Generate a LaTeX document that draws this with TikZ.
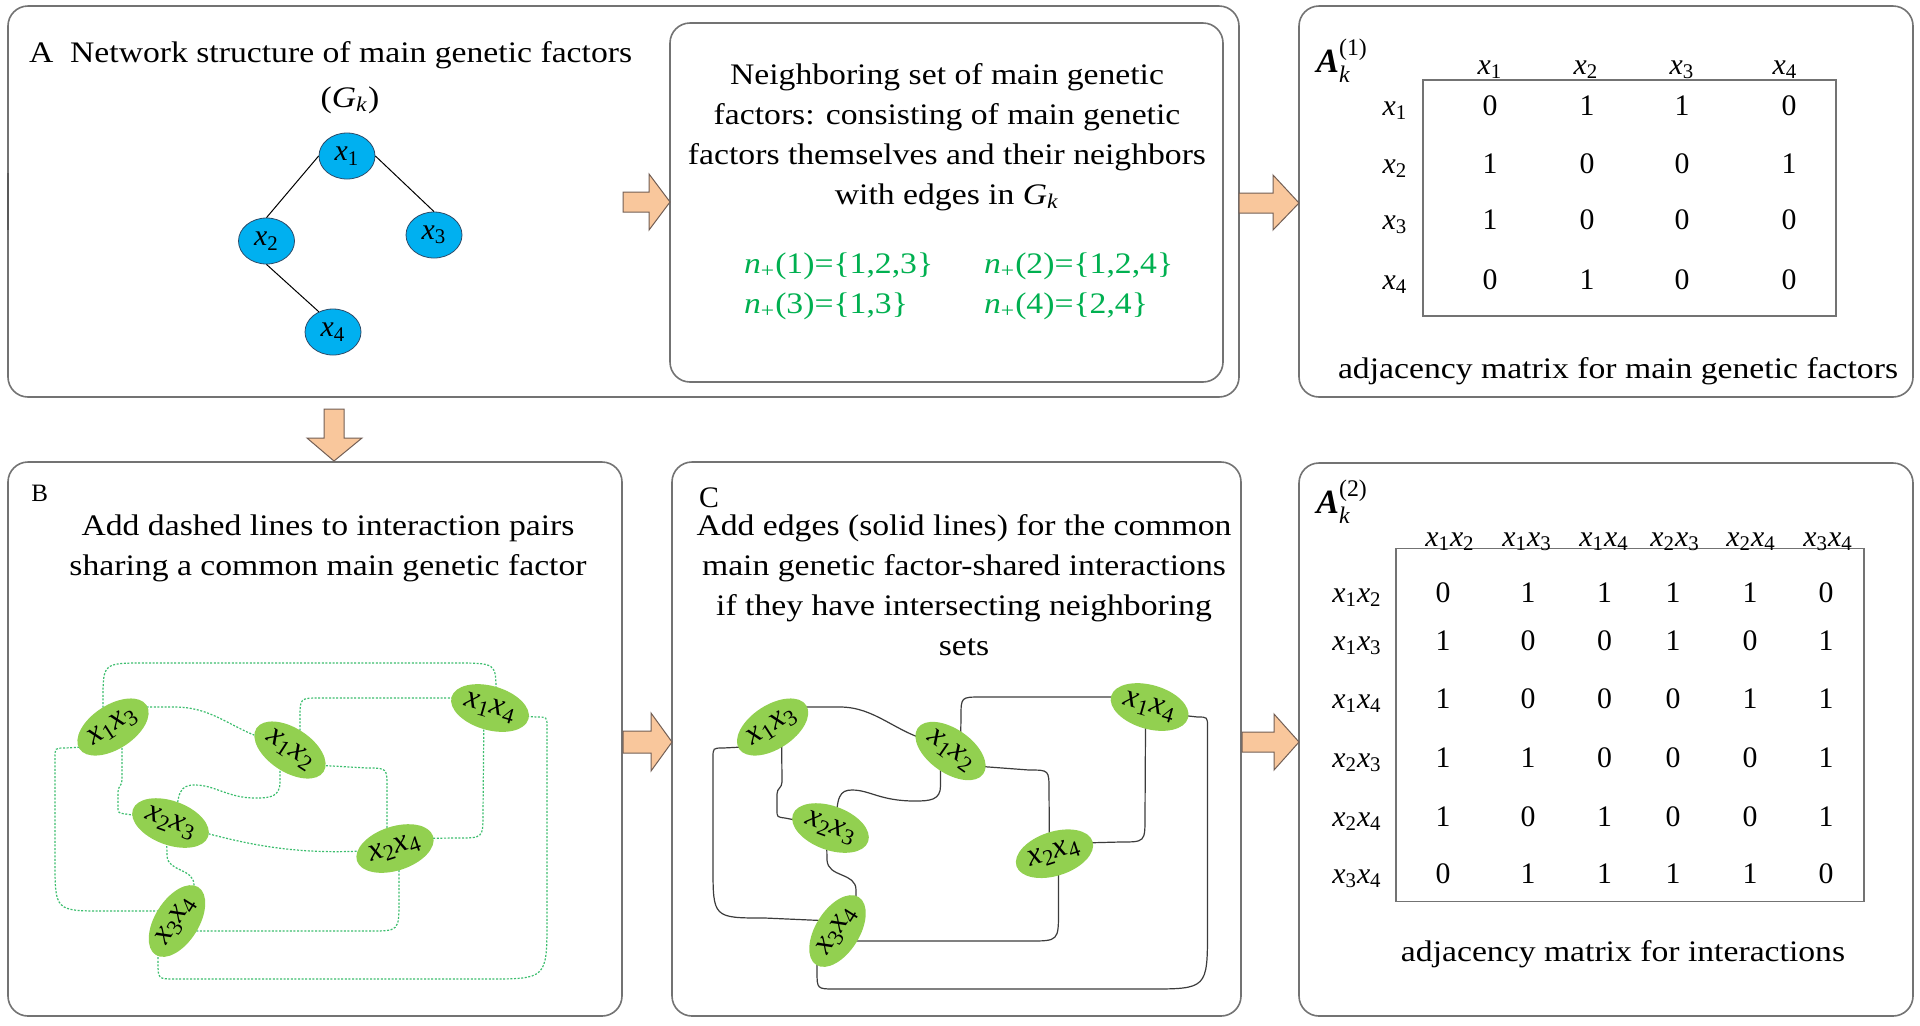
\documentclass[tikz,border=0pt]{standalone}
\usepackage{fontspec}
\setmainfont{Liberation Serif}
\usepackage{amsmath}
\usepackage{graphicx}
\usetikzlibrary{calc,backgrounds,shapes.geometric}
\definecolor{boxgray}{RGB}{115,115,115}
\definecolor{peach}{RGB}{249,199,156}
\definecolor{peachedge}{RGB}{115,95,85}
\definecolor{nodeblue}{RGB}{0,176,240}
\definecolor{blueedge}{RGB}{45,75,105}
\definecolor{leafgreen}{RGB}{146,208,80}
\definecolor{textgreen}{RGB}{0,176,80}
\definecolor{dotgreen}{RGB}{60,190,110}
\definecolor{wiregray}{RGB}{60,60,60}
\newcommand\hstr[1]{\scalebox{1.13}[1]{#1}}
\newcommand\myx[1]{\textit{x}\textsubscript{#1}}
\newcommand\myGk{\textit{G}\textsubscript{\textit{k}}}
\begin{document}
\begin{tikzpicture}[x=0.5pt,y=-0.5pt,
  txt/.style={inner sep=0pt,outer sep=0pt,font=\fontsize{14.9}{20}\selectfont},
  boxst/.style={draw=boxgray,line width=0.8pt,rounded corners=10pt},
  mrect/.style={draw=boxgray,line width=0.7pt},
  barrow/.style={fill=peach,draw=peachedge,line width=0.5pt},
  bnode/.style={ellipse,fill=nodeblue,draw=blueedge,line width=0.4pt,minimum width=28pt,minimum height=23pt,inner sep=0pt,font=\fontsize{14.9}{20}\selectfont},
  gnode/.style={ellipse,fill=leafgreen,minimum width=40pt,minimum height=22pt,inner sep=0pt,font=\fontsize{16}{20}\selectfont},
  edgeA/.style={draw=black,line width=0.5pt},
  dotB/.style={draw=dotgreen,line width=0.6pt,dash pattern=on 1pt off 0.8pt},
  solC/.style={draw=wiregray,line width=0.6pt}]
\useasboundingbox (0,0) rectangle (1920,1025);

% ---------- boxes ----------
\draw[boxst] (8,6) rectangle (1239,397);
\draw[boxst] (670,23) rectangle (1223,382);
\draw[boxst] (1299,6) rectangle (1913,397);
\draw[boxst] (8,462) rectangle (622,1016);
\draw[boxst] (672,462) rectangle (1241,1016);
\draw[boxst] (1299,463) rectangle (1913,1016);
\draw[line width=1pt,black!65] (7.8,173) -- (7.8,230);

% ---------- block arrows ----------
\draw[barrow] (623,192) -- (649,192) -- (649,174) -- (670,202) -- (649,230) -- (649,212) -- (623,212) -- cycle;
\draw[barrow] (1239,193) -- (1273,193) -- (1273,175) -- (1299,203) -- (1273,230) -- (1273,213) -- (1239,213) -- cycle;
\draw[barrow] (324,409) -- (344,409) -- (344,438) -- (362,438) -- (334,461) -- (307,438) -- (324,438) -- cycle;
\draw[barrow] (623,731) -- (651,731) -- (651,713) -- (672,742) -- (651,771) -- (651,753) -- (623,753) -- cycle;
\draw[barrow] (1242,732) -- (1274,732) -- (1274,714) -- (1299,742) -- (1274,770) -- (1274,752) -- (1242,752) -- cycle;

% ---------- panel A ----------
\node[txt,anchor=base west] (tA1) at (29,62) {\hstr{A\hspace{0.5em}Network structure of main genetic factors}};
\node[txt,anchor=base] (tA2) at (350,107) {\hstr{(\myGk)}};
\node[bnode] (g1) at (347,156) {\myx{1}};
\node[bnode] (g2) at (266.5,241) {\myx{2}};
\node[bnode] (g3) at (434,235) {\myx{3}};
\node[bnode] (g4) at (333,332) {\myx{4}};
\draw[edgeA] (g1.west) -- (g2.north);
\draw[edgeA] (g1.east) -- (g3.north);
\draw[edgeA] (g2.south) -- (g4.125);

% ---------- neighbouring set ----------
\node[txt,anchor=base] (tN1) at (947,84) {\hstr{Neighboring set of main genetic}};
\node[txt,anchor=base] (tN2) at (947,124) {\hstr{factors: consisting of main genetic}};
\node[txt,anchor=base] (tN3) at (947,164) {\hstr{factors themselves and their neighbors}};
\node[txt,anchor=base] (tN4) at (947,204) {\hstr{with edges in \myGk}};
\node[txt,anchor=base west,text=textgreen] (s1) at (744,273) {\hstr{\textit{n}\textsubscript{+}(1)=\{1,2,3\}}};
\node[txt,anchor=base west,text=textgreen] (s2) at (984,273) {\hstr{\textit{n}\textsubscript{+}(2)=\{1,2,4\}}};
\node[txt,anchor=base west,text=textgreen] (s3) at (744,313) {\hstr{\textit{n}\textsubscript{+}(3)=\{1,3\}}};
\node[txt,anchor=base west,text=textgreen] (s4) at (984,313) {\hstr{\textit{n}\textsubscript{+}(4)=\{2,4\}}};

% ---------- matrix A1 ----------
\node[inner sep=0pt,anchor=base west,font=\fontsize{17}{20}\selectfont] (L1) at (1316,72) {$\textbf{\textit{A}}^{\textrm{(1)}}_{\textit{k}}$};
\draw[mrect] (1423,80) rectangle (1836,316);
\foreach \xx/\i in {1490/1,1586/2,1682/3,1785/4}
  \node[txt,anchor=base] (h1\i) at (\xx,74) {\myx{\i}};
\foreach \yy/\i in {115.5/1,173/2,229/3,289/4}
  \node[txt,anchor=base] (r1\i) at (1395,\yy) {\myx{\i}};
\foreach \xx/\v [count=\c] in {1490/0,1587/1,1682/1,1789/0}
  \node[txt,anchor=base] (p1\c) at (\xx,115.5) {\v};
\foreach \xx/\v [count=\c] in {1490/1,1587/0,1682/0,1789/1}
  \node[txt,anchor=base] (p2\c) at (\xx,173) {\v};
\foreach \xx/\v [count=\c] in {1490/1,1587/0,1682/0,1789/0}
  \node[txt,anchor=base] (p3\c) at (\xx,229) {\v};
\foreach \xx/\v [count=\c] in {1490/0,1587/1,1682/0,1789/0}
  \node[txt,anchor=base] (p4\c) at (\xx,289) {\v};
\node[txt,anchor=base] (cap1) at (1618,378) {\hstr{adjacency matrix for main genetic factors}};

% ---------- panel B ----------
\node[inner sep=0pt,anchor=base west,font=\fontsize{12.5}{14}\selectfont] (tB0) at (31,501) {B};
\node[txt,anchor=base] (tB1) at (328,535) {\hstr{Add dashed lines to interaction pairs}};
\node[txt,anchor=base] (tB2) at (328,575) {\hstr{sharing a common main genetic factor}};
\node[gnode,rotate=33] (n13) at (113,727) {\myx{1}\myx{3}};
\node[gnode,rotate=-33] (n12) at (290,750) {\myx{1}\myx{2}};
\node[gnode,rotate=-16] (n14) at (490,708) {\myx{1}\myx{4}};
\node[gnode,rotate=-20] (n23) at (170.5,823) {\myx{2}\myx{3}};
\node[gnode,rotate=18] (n24) at (395,848.5) {\myx{2}\myx{4}};
\node[gnode,rotate=58] (n34) at (177,921) {\myx{3}\myx{4}};

% ---------- panel C ----------
\node[txt,anchor=base west] (tC0) at (699,507) {C};
\node[txt,anchor=base] (tC1) at (964,535) {\hstr{Add edges (solid lines) for the common}};
\node[txt,anchor=base] (tC2) at (964,575) {\hstr{main genetic factor-shared interactions}};
\node[txt,anchor=base] (tC3) at (964,615) {\hstr{if they have intersecting neighboring}};
\node[txt,anchor=base] (tC4) at (964,655) {\hstr{sets}};
\node[gnode,rotate=33] (m13) at (772.6,727) {\myx{1}\myx{3}};
\node[gnode,rotate=-35] (m12) at (950.5,751) {\myx{1}\myx{2}};
\node[gnode,rotate=-16] (m14) at (1149.6,707) {\myx{1}\myx{4}};
\node[gnode,rotate=-20] (m23) at (830.5,828) {\myx{2}\myx{3}};
\node[gnode,rotate=18] (m24) at (1054.5,853.7) {\myx{2}\myx{4}};
\node[gnode,rotate=58] (m34) at (837.5,931) {\myx{3}\myx{4}};

% ---------- matrix A2 ----------
\node[inner sep=0pt,anchor=base west,font=\fontsize{17}{20}\selectfont] (L2) at (1316,513) {$\textbf{\textit{A}}^{\textrm{(2)}}_{\textit{k}}$};
\draw[mrect] (1396,548.5) rectangle (1864,901.5);
\foreach \xx/\a/\b [count=\c] in {1450/1/2,1527/1/3,1604/1/4,1675/2/3,1751/2/4,1828/3/4}
  \node[txt,anchor=base] (h2\c) at (\xx,546) {\myx{\a}\myx{\b}};
\foreach \yy/\a/\b [count=\c] in {602/1/2,650/1/3,708.5/1/4,767/2/3,826/2/4,883.6/3/4}
  \node[txt,anchor=base] (r2\c) at (1357,\yy) {\myx{\a}\myx{\b}};
\foreach \xx/\v [count=\c] in {1443/0,1528/1,1604.5/1,1673/1,1750/1,1826/0}
  \node[txt,anchor=base] (q1\c) at (\xx,602) {\v};
\foreach \xx/\v [count=\c] in {1443/1,1528/0,1604.5/0,1673/1,1750/0,1826/1}
  \node[txt,anchor=base] (q2\c) at (\xx,650) {\v};
\foreach \xx/\v [count=\c] in {1443/1,1528/0,1604.5/0,1673/0,1750/1,1826/1}
  \node[txt,anchor=base] (q3\c) at (\xx,708.5) {\v};
\foreach \xx/\v [count=\c] in {1443/1,1528/1,1604.5/0,1673/0,1750/0,1826/1}
  \node[txt,anchor=base] (q4\c) at (\xx,767) {\v};
\foreach \xx/\v [count=\c] in {1443/1,1528/0,1604.5/1,1673/0,1750/0,1826/1}
  \node[txt,anchor=base] (q5\c) at (\xx,826) {\v};
\foreach \xx/\v [count=\c] in {1443/0,1528/1,1604.5/1,1673/1,1750/1,1826/0}
  \node[txt,anchor=base] (q6\c) at (\xx,883.6) {\v};
\node[txt,anchor=base] (cap2) at (1623,961) {\hstr{adjacency matrix for interactions}};

% ---------- connectors (under the ellipses) ----------
\begin{scope}[on background layer]
\fill[white] (0,0) rectangle (1920,1025);
% panel B: dotted
\draw[dotB] ($(n13)+(-10,-5)$) -- (103,700) .. controls (103,663) .. (145,663) -- (455,663) .. controls (496,663) .. (496,692) -- ($(n14)+(6,-2)$);
\draw[dotB] ($(n13)+(30,-20)$) -- (175,707) .. controls (215,707) and (235,732) .. ($(n12)+(-20,-10)$);
\draw[dotB] ($(n12)+(10,-5)$) -- (300,718) .. controls (300,698) .. (320,698) -- ($(n14)+(-10,-10)$);
\draw[dotB] ($(n13)+(-30,20)$) -- (65,748) .. controls (55,748) .. (55,758) -- (55,861) .. controls (55,911) .. (105,911) -- ($(n34)+(-5,-10)$);
\draw[dotB] ($(n13)+(9,10)$) -- (122,780) .. controls (122,786) and (118,786) .. (118,792) -- (118,806) .. controls (118,813) .. (126,814) -- ($(n23)+(-20,-5)$);
\draw[dotB] ($(n12)+(-10,10)$) -- (280,782) .. controls (280,797) and (270,798) .. (255,798) .. controls (228,798) and (215,785) .. (195,785) .. controls (180,785) and (177,792) .. ($(n23)+(6,0)$);
\draw[dotB] ($(n12)+(25,15)$) -- (367,768) .. controls (387,768) .. (387,788) -- ($(n24)+(-8,0)$);
\draw[dotB] ($(n14)+(-6,0)$) -- (483,813) .. controls (483,838) .. (458,838) -- ($(n24)+(0,-10)$);
\draw[dotB] ($(n14)+(30,8)$) -- (537,717) .. controls (547,717) .. (547,727) -- (547,919) .. controls (547,979) .. (487,979) -- (175,979) .. controls (158,979) .. (158,962) -- ($(n34)+(-19,0)$);
\draw[dotB] (n23.center) .. controls (245,845) and (300,858) .. (n24.center);
\draw[dotB] ($(n23)+(-4,5)$) -- (167,856) .. controls (168,872) and (194,868) .. (194,885) -- ($(n34)+(17,-6)$);
\draw[dotB] ($(n24)+(4,0)$) -- (399,901) .. controls (399,931) .. (369,931) -- ($(n34)+(5,10)$);
% panel C: solid
\draw[solC] ($(m13)+(30,-20)$) -- (840,707) .. controls (875,707) and (895,732) .. ($(m12)+(-20,-10)$);
\draw[solC] ($(m12)+(10,-5)$) -- (961,717) .. controls (961,697) .. (981,697) -- ($(m14)+(-10,-10)$);
\draw[solC] ($(m13)+(-30,20)$) -- (723,748) .. controls (713,748) .. (713,758) -- (713,866) .. controls (713,918) .. (765,918) -- ($(m34)+(-5,-10)$);
\draw[solC] ($(m13)+(9,10)$) -- (782,782) .. controls (782,788) and (777,788) .. (777,794) -- (777,810) .. controls (777,817) .. (785,818) -- ($(m23)+(-20,-5)$);
\draw[solC] ($(m12)+(-10,10)$) -- (940.5,786) .. controls (940.5,800) and (930,801) .. (915,801) .. controls (880,801) and (870,790) .. (852,790) .. controls (840,790) and (836,796) .. ($(m23)+(6,0)$);
\draw[solC] ($(m12)+(25,15)$) -- (1029,770) .. controls (1049,770) .. (1049,790) -- ($(m24)+(-5,0)$);
\draw[solC] ($(m14)+(-4,0)$) -- (1145,817) .. controls (1145,842) .. (1120,842) -- ($(m24)+(0,-10)$);
\draw[solC] ($(m14)+(30,8)$) -- (1197.5,717) .. controls (1207.5,717) .. (1207.5,727) -- (1207.5,929) .. controls (1207.5,989) .. (1147.5,989) -- (835,989) .. controls (817,989) .. (817,971) -- ($(m34)+(-20,0)$);
\draw[solC] ($(m23)+(-4,5)$) -- (827,860) .. controls (828,878) and (856,872) .. (856,890) -- ($(m34)+(18,-6)$);
\draw[solC] ($(m24)+(4,0)$) -- (1058.5,911) .. controls (1058.5,941) .. (1028.5,941) -- ($(m34)+(5,10)$);
\end{scope}
\end{tikzpicture}
\end{document}
